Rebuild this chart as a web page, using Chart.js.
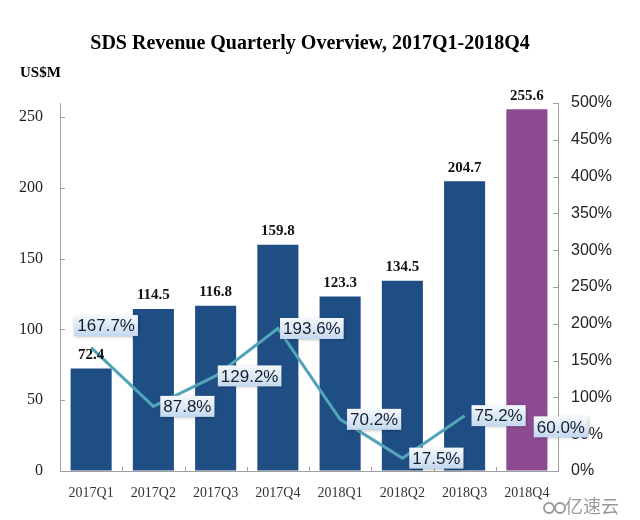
<!DOCTYPE html>
<html>
<head>
<meta charset="utf-8">
<script src="https://cdn.jsdelivr.net/npm/chart.js@4/dist/chart.umd.min.js"></script>
<style>body{margin:0;background:#fff}</style>
</head>
<body>
<canvas id="c" width="640" height="520"></canvas>
<script>
const quarters = ['2017Q1', '2017Q2', '2017Q3', '2017Q4', '2018Q1', '2018Q2', '2018Q3', '2018Q4'];
const revenue = [72.4, 114.5, 116.8, 159.8, 123.3, 134.5, 204.7, 255.6];
const growth = [167.7, 87.8, 129.2, 193.6, 70.2, 17.5, 75.2, 60.0];
const leftTicks = [0, 50, 100, 150, 200, 250];
const rightTicks = [0, 50, 100, 150, 200, 250, 300, 350, 400, 450, 500];

const BLUE = '#1f4e85', PURPLE = '#8c4b90', AXIS = '#a0a0a0', LINE = '#52a4b8';
const serif = '"Liberation Serif", "Times New Roman", serif';
const sans = '"Liberation Sans", Arial, sans-serif';

// 内側の目盛り、タイトル、ラベル
const decor = {
    id: 'decor',
    afterDatasetsDraw(chart) {
        const ctx = chart.ctx;
        const a = chart.chartArea;
        const x = chart.scales.x, y = chart.scales.y, y1 = chart.scales.y1;
        ctx.save();

        // ticks inside
        ctx.strokeStyle = AXIS; ctx.lineWidth = 1;
        ctx.beginPath();
        leftTicks.forEach(v => { const p = Math.round(y.getPixelForValue(v)) + 0.5; ctx.moveTo(a.left, p); ctx.lineTo(a.left + 5, p); });
        rightTicks.forEach(v => { const p = Math.round(y1.getPixelForValue(v)) + 0.5; ctx.moveTo(a.right - 5, p); ctx.lineTo(a.right, p); });
        for (let i = 1; i < quarters.length; i++) {
            const p = Math.round((x.getPixelForValue(i - 1) + x.getPixelForValue(i)) / 2) + 0.5;
            ctx.moveTo(p, a.bottom); ctx.lineTo(p, a.bottom - 4);
        }
        ctx.stroke();

        // bar values
        const bars = chart.getDatasetMeta(1).data;
        ctx.fillStyle = '#111';
        ctx.font = 'bold 15px ' + serif;
        ctx.textAlign = 'center'; ctx.textBaseline = 'bottom';
        bars.forEach((b, i) => ctx.fillText(revenue[i].toFixed(1), b.x, b.y - 6));

        // growth labels
        const pts = chart.getDatasetMeta(0).data;
        ctx.font = '17px ' + sans;
        ctx.textBaseline = 'middle'; ctx.textAlign = 'left';
        pts.forEach((p, i) => {
            const txt = growth[i].toFixed(1) + '%';
            const w = ctx.measureText(txt).width + 6, h = 21;
            const cx = p.x + (i === 0 ? 15 : 34), cy = p.y + (i === 0 ? -22 : 0);
            const bx = cx - w / 2, by = cy - h / 2;
            const g = ctx.createLinearGradient(0, by, 0, by + h);
            g.addColorStop(0, '#f6f9fd'); g.addColorStop(1, '#c3d8ef');
            ctx.save();
            ctx.shadowColor = 'rgba(0,0,0,0.3)'; ctx.shadowBlur = 3; ctx.shadowOffsetX = 1; ctx.shadowOffsetY = 1;
            ctx.fillStyle = g; ctx.fillRect(bx, by, w, h);
            ctx.restore();
            ctx.fillStyle = '#15202e';
            ctx.fillText(txt, bx + 3, cy + 1);
        });

        // title
        ctx.fillStyle = '#000';
        ctx.textAlign = 'center'; ctx.textBaseline = 'middle';
        ctx.font = 'bold 20px ' + serif;
        ctx.fillText('SDS Revenue Quarterly Overview, 2017Q1-2018Q4', 310, 44);
        ctx.textAlign = 'left';
        ctx.font = 'bold 15px ' + serif;
        ctx.fillText('US$M', 20, 73);

        // watermark
        ctx.fillStyle = '#9a9a9a';
        ctx.font = '18px "Noto Sans CJK SC"';
        ctx.fillText('亿速云', 565, 506);
        ctx.strokeStyle = '#9a9a9a'; ctx.lineWidth = 2;
        ctx.beginPath(); ctx.arc(549, 508, 5, 0, Math.PI * 2); ctx.stroke();
        ctx.beginPath(); ctx.arc(560, 508, 5, 0, Math.PI * 2); ctx.stroke();
        ctx.restore();
    }
};

new Chart(document.getElementById('c'), {
    data: {
        labels: quarters,
        datasets: [
            {
                type: 'line', data: growth, yAxisID: 'y1', order: 0, borderColor: LINE, borderWidth: 3, pointRadius: 0, tension: 0,
                // 最後の区間は線なし
                segment: { borderColor: c => c.p1DataIndex === growth.length - 1 ? 'rgba(0,0,0,0)' : LINE }
            },
            { type: 'bar', data: revenue, yAxisID: 'y', order: 1, backgroundColor: quarters.map((q, i) => i === quarters.length - 1 ? PURPLE : BLUE), barPercentage: 0.66, categoryPercentage: 1 }
        ]
    },
    options: {
        responsive: false,
        animation: false,
        layout: { padding: { top: 103, left: 0, right: 0, bottom: 0 } },
        plugins: { legend: { display: false }, tooltip: { enabled: false } },
        scales: {
            x: {
                grid: { display: false, drawTicks: false },
                border: { color: AXIS },
                ticks: { color: '#333', font: { family: serif, size: 14 }, padding: 14 },
                afterFit: s => { s.height = 49; }
            },
            y: {
                position: 'left', min: 0, max: 260,
                grid: { drawOnChartArea: false, drawTicks: false },
                border: { color: AXIS },
                afterBuildTicks: s => { s.ticks = leftTicks.map(v => ({ value: v })); },
                ticks: { color: '#222', font: { family: serif, size: 16 }, padding: 17 },
                afterFit: s => { s.width = 60; }
            },
            y1: {
                position: 'right', min: 0, max: 500,
                grid: { drawOnChartArea: false, drawTicks: false },
                border: { color: AXIS },
                afterBuildTicks: s => { s.ticks = rightTicks.map(v => ({ value: v })); },
                ticks: { color: '#222', font: { family: sans, size: 16 }, padding: 13, callback: v => v + '%' },
                afterFit: s => { s.width = 82; }
            }
        }
    },
    plugins: [decor]
});
</script>
</body>
</html>
